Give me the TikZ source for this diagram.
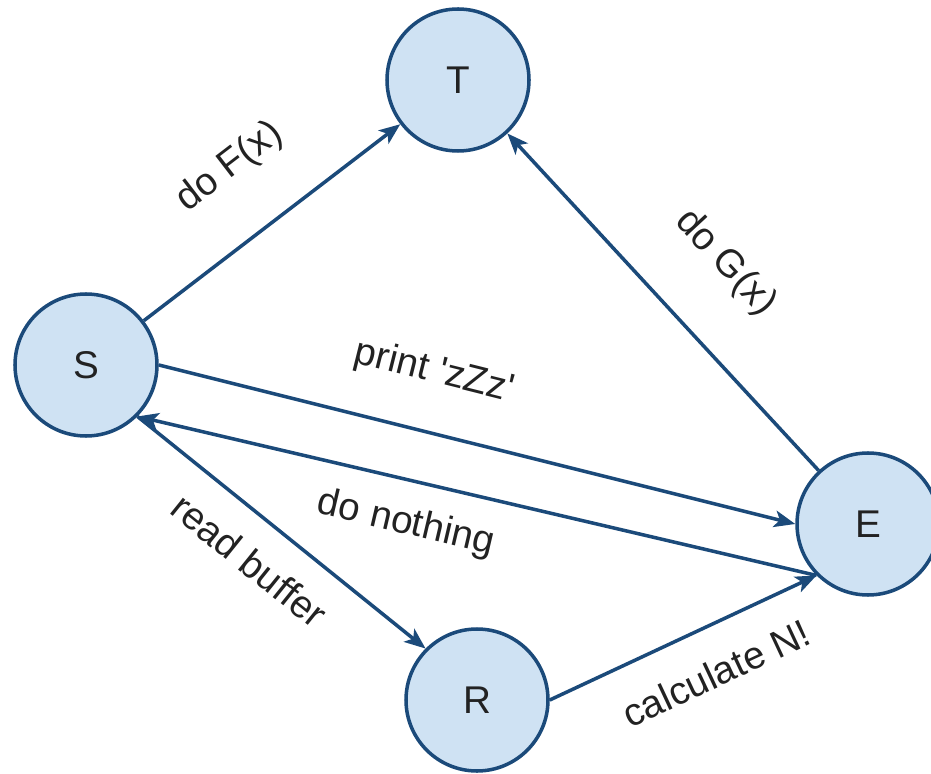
\documentclass[tikz,border=0pt]{standalone}
\usepackage{fontspec}
\setmainfont{Liberation Sans}
\usepackage{tikz}
\usetikzlibrary{arrows.meta,positioning}

\definecolor{statefill}{HTML}{CFE2F3}
\definecolor{statedraw}{HTML}{1B4A7A}
\definecolor{labeltext}{HTML}{222222}

\begin{document}
\begin{tikzpicture}[->,>={Stealth[length=12pt,width=9.5pt,inset=3pt]},
    line width=2pt, draw=statedraw,
    state/.style={circle,draw=statedraw,fill=statefill,minimum size=2.84cm,
      inner sep=0pt,text=labeltext,font=\fontsize{22}{26}\selectfont},
    lbl/.style={sloped,inner sep=0pt,text=labeltext,font=\fontsize{22}{26}\selectfont}]
  \useasboundingbox (0,0) rectangle (18.62,-15.48);

  \node[state] (T) at (9.16,-1.60) {T};
  \node[state] (S) at (1.72,-7.30) {S};
  \node[state] (E) at (17.36,-10.48) {E};
  \node[state] (R) at (9.54,-14.00) {R};

  \draw (S) -- node[lbl,above=1.0cm] {do F(x)} (T);
  \draw (E) -- node[lbl,above=1.05cm,pos=.47] {do G(x)} (T);
  \draw (S.east) -- node[lbl,above=.8cm,pos=.41] {print \textquotesingle zZz\textquotesingle} (E.west);
  \draw (E.south west) -- node[lbl,below=.47cm,pos=.59] {do nothing} (S.south east);
  \draw (S.south east) -- node[lbl,below=.52cm,pos=.48] {read buffer} (R.north west);
  \draw (R.east) -- node[lbl,below=.6cm,pos=.55] {calculate N!} (E.south west);
\end{tikzpicture}
\end{document}
